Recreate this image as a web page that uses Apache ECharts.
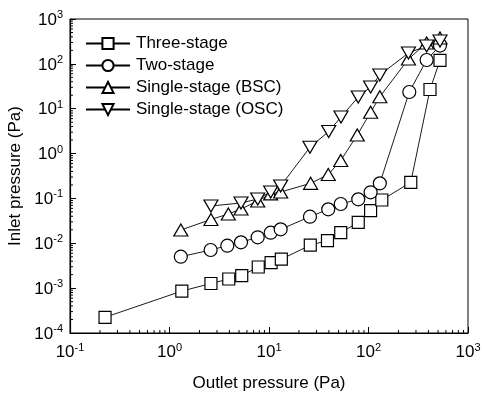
<!DOCTYPE html>
<html>
<head>
<meta charset="utf-8">
<script src="https://cdn.jsdelivr.net/npm/echarts@6/dist/echarts.min.js"></script>
<style>
  html, body { margin: 0; padding: 0; background: #fff; }
  #chart { width: 482px; height: 394px; }
</style>
</head>
<body>
<div id="chart"></div>
<script>
  // outlet (x) / inlet (y) pressures in Pa
  var threeX = [0.225, 1.33, 2.61, 3.94, 5.32, 7.8, 10.5, 13.3, 26, 38.7, 52.6, 78.9, 105, 136, 266, 415, 523];
  var threeY = [2.24e-4, 8.6e-4, 1.27e-3, 1.6e-3, 1.91e-3, 2.96e-3, 3.69e-3, 4.42e-3, 9.06e-3, 0.0115, 0.0172, 0.0294, 0.0532, 0.0922, 0.229, 26.8, 119];

  var twoX = [1.3, 2.59, 3.81, 5.23, 7.7, 10.4, 13.1, 25.8, 39.4, 52.6, 78.9, 105, 130, 257, 384, 523];
  var twoY = [5.02e-3, 7.08e-3, 8.83e-3, 0.0105, 0.0136, 0.0172, 0.0205, 0.0391, 0.0572, 0.0751, 0.0955, 0.137, 0.217, 23.6, 122, 256];

  var bscX = [1.3, 2.61, 3.9, 5.23, 7.7, 10.4, 13.1, 26.2, 39.4, 52.6, 77.1, 105, 130, 252, 384, 523];
  var bscY = [0.0198, 0.0339, 0.045, 0.058, 0.0877, 0.126, 0.139, 0.217, 0.341, 0.7, 2.59, 8.32, 18.5, 128, 292, 377];

  var oscX = [2.61, 5.23, 7.7, 10.4, 13.1, 25.8, 39.8, 52.9, 78.9, 105, 130, 252, 384, 523];
  var oscY = [0.0678, 0.0791, 0.097, 0.139, 0.189, 1.38, 3.1, 6.53, 18.2, 30.5, 56.4, 175, 250, 323];

  var seriesNames = ['Three-stage', 'Two-stage', 'Single-stage (BSC)', 'Single-stage (OSC)'];

  var xMin = 0.1, xMax = 1000, yMin = 1e-4, yMax = 1000;

  function pairs(xs, ys) {
    return xs.map(function (v, i) { return [v, ys[i]]; });
  }

  // minor ticks 2..9 in every decade
  function minorTicks(lo, hi) {
    var out = [];
    for (var d = lo; d < hi; d++) {
      for (var k = 2; k <= 9; k++) out.push(k * Math.pow(10, d));
    }
    return out;
  }
  var xMinor = minorTicks(-1, 3).map(function (v) { return [v, yMin]; });
  var yMinor = minorTicks(-4, 3).map(function (v) { return [xMin, v]; });

  var font = 'Liberation Sans, Arial, Helvetica, sans-serif';

  function powLabel(v) {
    var e = Math.round(Math.log10(v));
    return '{b|10}{s|' + e + '}';
  }
  var rich = {
    b: { fontSize: 17, fontFamily: font, color: '#000', verticalAlign: 'bottom', lineHeight: 19 },
    s: { fontSize: 11, fontFamily: font, color: '#000', verticalAlign: 'top', lineHeight: 19, padding: [0, 0, 9, 0] }
  };

  var mark = {
    color: '#fff',
    borderColor: '#000',
    borderWidth: 1.2
  };
  var lineSt = { color: '#000', width: 0.9 };
  var downTri = 'path://M0,0 L12,0 L6,10.4 Z';

  var myChart = echarts.init(document.getElementById('chart'));
  var option = {
    animation: false,
    textStyle: { fontFamily: font },
    grid: {
      left: 70, right: 14, top: 19, bottom: 61,
      containLabel: false, outerBoundsMode: 'none',
      show: true, borderColor: '#000', borderWidth: 1, backgroundColor: 'transparent'
    },
    legend: {
      data: seriesNames,
      orient: 'vertical',
      left: 80, top: 30,
      itemWidth: 44, itemHeight: 14, itemGap: 5,
      textStyle: { fontSize: 17, fontFamily: font, color: '#000', lineHeight: 15, padding: [0, 0, 0, 1] }
    },
    xAxis: {
      type: 'log', logBase: 10, min: xMin, max: xMax,
      name: 'Outlet pressure (Pa)', nameLocation: 'middle', nameGap: 42,
      nameTextStyle: { fontSize: 17, fontFamily: font, color: '#000' },
      axisLine: { lineStyle: { color: '#000', width: 1.2 } },
      axisTick: { inside: true, length: 6, lineStyle: { color: '#000' } },
      axisLabel: { formatter: powLabel, rich: rich, margin: 9 },
      splitLine: { show: false }
    },
    yAxis: {
      type: 'log', logBase: 10, min: yMin, max: yMax,
      name: 'Inlet pressure (Pa)', nameLocation: 'middle', nameGap: 42,
      nameTextStyle: { fontSize: 17, fontFamily: font, color: '#000' },
      axisLine: { lineStyle: { color: '#000', width: 1.2 } },
      axisTick: { inside: true, length: 6, lineStyle: { color: '#000' } },
      axisLabel: { formatter: powLabel, rich: rich, margin: 7 },
      splitLine: { show: false }
    },
    series: [{
        name: seriesNames[0], type: 'line', data: pairs(threeX, threeY),
        symbol: 'rect', symbolSize: 12, showAllSymbol: true,
        itemStyle: mark, lineStyle: lineSt
      },
      {
        name: seriesNames[1], type: 'line', data: pairs(twoX, twoY),
        symbol: 'circle', symbolSize: 13, showAllSymbol: true,
        itemStyle: mark, lineStyle: lineSt
      },
      {
        name: seriesNames[2], type: 'line', data: pairs(bscX, bscY),
        symbol: 'triangle', symbolSize: [14, 12], showAllSymbol: true,
        itemStyle: mark, lineStyle: lineSt
      },
      {
        name: seriesNames[3], type: 'line', data: pairs(oscX, oscY),
        symbol: downTri, symbolSize: [14, 12], showAllSymbol: true,
        itemStyle: mark, lineStyle: lineSt
      },
      {
        type: 'custom', data: xMinor, silent: true, clip: false,
        renderItem: function (params, api) {
          var p = api.coord([api.value(0), api.value(1)]);
          return { type: 'line', shape: { x1: p[0], y1: p[1], x2: p[0], y2: p[1] - 3 }, style: { stroke: '#000', lineWidth: 1 } };
        }
      },
      {
        type: 'custom', data: yMinor, silent: true, clip: false,
        renderItem: function (params, api) {
          var p = api.coord([api.value(0), api.value(1)]);
          return { type: 'line', shape: { x1: p[0], y1: p[1], x2: p[0] + 3, y2: p[1] }, style: { stroke: '#000', lineWidth: 1 } };
        }
      }
    ]
  };
  myChart.setOption(option);
</script>
</body>
</html>
